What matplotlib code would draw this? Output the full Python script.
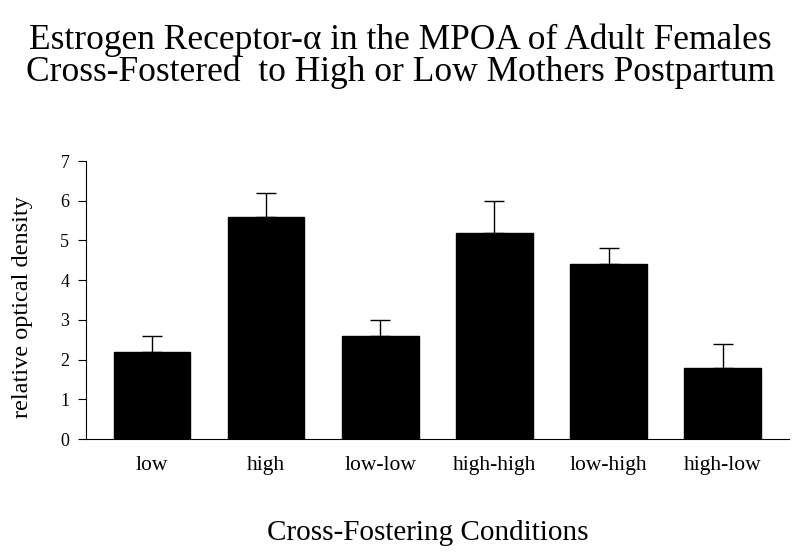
import matplotlib.pyplot as plt
import numpy as np

plt.rcParams["font.family"] = ["Liberation Serif", "DejaVu Serif"]

conditions = ["low", "high", "low-low", "high-high", "low-high", "high-low"]
density = [2.2, 5.6, 2.6, 5.2, 4.4, 1.8]
sem = [0.4, 0.6, 0.4, 0.8, 0.4, 0.6]

fig = plt.figure(figsize=(8, 5.56), dpi=100)
ax = fig.add_axes([0.1075, 0.2104, 0.8785, 0.5])

x = np.arange(len(conditions))
ax.bar(x, density, width=0.67, color="black", edgecolor="black", linewidth=1)
ax.errorbar(x, density, yerr=[np.zeros(len(sem)), sem], fmt="none",
            ecolor="black", elinewidth=1, capsize=7.5, capthick=1)

ax.set_xlim(-0.58, 5.58)
ax.set_ylim(0, 7)
ax.set_yticks(range(8))
ax.set_xticks(x)
ax.set_xticklabels(conditions, fontsize=15.5)
ax.tick_params(axis="x", length=0, pad=12)
ax.tick_params(axis="y", labelsize=13, direction="out", length=6, pad=6)
ax.spines["top"].set_visible(False)
ax.spines["right"].set_visible(False)
ax.set_ylabel("relative optical density", fontsize=17.5)
ax.yaxis.set_label_coords(-0.075, 0.475)

fig.text(0.5, 0.928, "Estrogen Receptor-\u03b1 in the MPOA of Adult Females",
         ha="center", va="center", fontsize=25.5)
fig.text(0.5, 0.87, "Cross-Fostered  to High or Low Mothers Postpartum",
         ha="center", va="center", fontsize=25.5)
fig.text(0.535, 0.041, "Cross-Fostering Conditions", ha="center", va="center",
         fontsize=21)

fig.savefig("out.png", dpi=100)
